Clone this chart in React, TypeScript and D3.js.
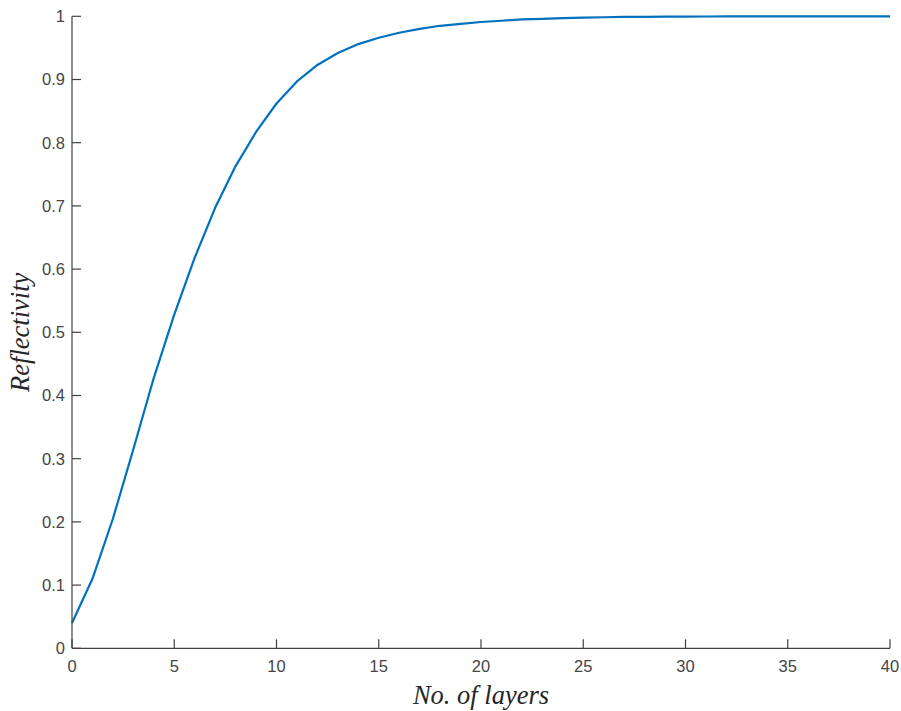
import { useMemo } from 'react';
import * as d3 from 'd3';

const layers = d3.range(0, 41);
const reflectivity = [
  0.04, 0.11, 0.205, 0.315, 0.428, 0.528, 0.618, 0.697, 0.763, 0.817,
  0.862, 0.897, 0.923, 0.942, 0.956, 0.966, 0.974, 0.98, 0.985, 0.988,
  0.991, 0.993, 0.995, 0.996, 0.997, 0.998, 0.9985, 0.999, 0.9992, 0.9994,
  0.9996, 0.9997, 0.9998, 0.9999, 0.9999, 1, 1, 1, 1, 1, 1,
];
const xTicks = [0, 5, 10, 15, 20, 25, 30, 35, 40];
const yTicks = [0, 0.1, 0.2, 0.3, 0.4, 0.5, 0.6, 0.7, 0.8, 0.9, 1];

const xLabel = 'No. of layers';
const yLabel = 'Reflectivity';

export default function App(): React.ReactNode {
  const width = 901;
  const height = 711;
  const margin = { top: 16.3, right: 11, bottom: 62.7, left: 72 };
  const innerW = width - margin.left - margin.right;
  const innerH = height - margin.top - margin.bottom;
  const tickLen = 9;
  const axisColor = '#404040';
  const tickFont = "'Liberation Sans', Arial, sans-serif";
  const titleFont = "'Liberation Serif', 'Times New Roman', serif";

  const { x, y, path } = useMemo(() => {
    const x = d3.scaleLinear().domain([0, 40]).range([0, innerW]);
    const y = d3.scaleLinear().domain([0, 1]).range([innerH, 0]);
    const path =
      d3
        .line<number>()
        .x((_, i) => x(layers[i]))
        .y((d) => y(d))(reflectivity) ?? '';
    return { x, y, path };
  }, [innerW, innerH]);

  return (
    <svg
      width={width}
      height={height}
      style={{ position: 'absolute', left: 0, top: 0, background: '#fff' }}
    >
      <g transform={`translate(${margin.left},${margin.top})`}>
        <path d={path} fill="none" stroke="#0072BD" strokeWidth={2.2} strokeLinejoin="round" />
        <line x1={0} x2={innerW} y1={innerH} y2={innerH} stroke={axisColor} strokeWidth={1.2} />
        <line x1={0} x2={0} y1={0} y2={innerH} stroke={axisColor} strokeWidth={1.2} />
        {xTicks.map((t) => (
          <g key={`x${t}`} transform={`translate(${x(t)},${innerH})`}>
            <line y1={0} y2={-tickLen} stroke={axisColor} strokeWidth={1.2} />
            <text y={24} textAnchor="middle" fontFamily={tickFont} fontSize={16.5} fill="#454545">
              {t}
            </text>
          </g>
        ))}
        {yTicks.map((t) => (
          <g key={`y${t}`} transform={`translate(0,${y(t)})`}>
            <line x1={0} x2={tickLen} stroke={axisColor} strokeWidth={1.2} />
            <text x={-7} dy="0.36em" textAnchor="end" fontFamily={tickFont} fontSize={16.5} fill="#454545">
              {d3.format('~g')(t)}
            </text>
          </g>
        ))}
        <text
          x={innerW / 2}
          y={innerH + 55.5}
          textAnchor="middle"
          fontFamily={titleFont}
          fontStyle="italic"
          fontSize={26.5}
          fill="#262626"
        >
          {xLabel}
        </text>
        <text
          transform={`translate(${-43},${innerH / 2}) rotate(-90)`}
          textAnchor="middle"
          fontFamily={titleFont}
          fontStyle="italic"
          fontSize={26.5}
          fill="#262626"
        >
          {yLabel}
        </text>
      </g>
    </svg>
  );
}
